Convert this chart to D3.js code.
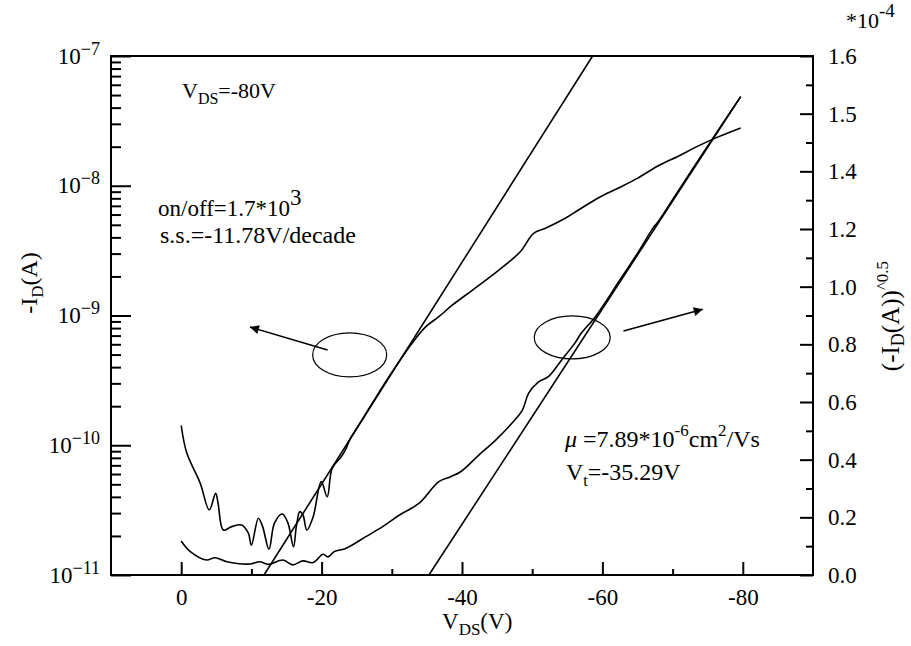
<!DOCTYPE html>
<html>
<head>
<meta charset="utf-8">
<script src="https://cdn.jsdelivr.net/npm/d3@7/dist/d3.min.js"></script>
<style>
  body { margin: 0; background: #fff; }
  svg { display: block; font-family: "Liberation Serif", "Times New Roman", serif; }
</style>
</head>
<body>
<div id="chart"></div>
<script>
// -I_D (A) on the log axis
const logV = [0, -0.8, -2.7, -4.0, -4.9, -5.25, -6.0, -7.2, -8.6, -9.55, -10.0, -11.0, -11.6, -12.5, -13.3, -14.4,
  -15.2, -16.0, -16.4, -16.9, -17.35, -17.9, -18.8, -19.95, -20.8, -21.5, -22.8, -23.5, -24.0, -25.4, -26.8, -28.2,
  -29.6, -32.7, -34.85, -36.7, -38.6, -41.5, -45.25, -48.3, -50.2, -51.9, -54.7, -56.6, -59.4, -62.3, -65.1, -67.9,
  -70.8, -73.6, -76.5, -79.7];
const logI = [1.42e-10, 8.7e-11, 5.12e-11, 3.17e-11, 4.26e-11, 3.59e-11, 2.22e-11, 2.36e-11, 2.43e-11, 2.11e-11,
  1.70e-11, 2.74e-11, 2.36e-11, 1.58e-11, 2.52e-11, 2.95e-11, 2.52e-11, 1.65e-11, 2.36e-11, 3.08e-11, 2.90e-11,
  2.22e-11, 2.81e-11, 5.24e-11, 4.01e-11, 6.64e-11, 8.16e-11, 9.47e-11, 1.10e-10, 1.46e-10, 1.94e-10, 2.57e-10,
  3.38e-10, 5.93e-10, 8.20e-10, 9.79e-10, 1.20e-9, 1.57e-9, 2.24e-9, 3.10e-9, 4.30e-9, 4.70e-9, 5.61e-9, 6.50e-9,
  8.05e-9, 9.61e-9, 1.15e-8, 1.42e-8, 1.69e-8, 2.02e-8, 2.38e-8, 2.79e-8];

// (-I_D)^0.5 on the right axis (position on that axis)
const sqrtV = [0, -1.3, -3.6, -4.8, -6.5, -9.8, -11.2, -12.4, -14.5, -15.9, -17.3, -18.8, -20.2, -20.9, -21.8, -23.5,
  -26.3, -28.7, -31.1, -33.9, -36.7, -38.4, -39.8, -42.4, -44.8, -47.1, -48.6, -49.5, -50.9, -52.3, -54.2, -56.1,
  -57.0, -59.0, -62.3, -65.1, -67.2, -67.9, -70.8, -73.6, -76.5, -79.7];
const sqrtI = [0.118, 0.081, 0.052, 0.060, 0.046, 0.038, 0.046, 0.037, 0.052, 0.035, 0.049, 0.043, 0.072, 0.063,
  0.081, 0.093, 0.133, 0.168, 0.208, 0.249, 0.324, 0.341, 0.358, 0.416, 0.468, 0.526, 0.572, 0.631, 0.670, 0.688,
  0.746, 0.805, 0.839, 0.896, 1.016, 1.120, 1.203, 1.224, 1.332, 1.436, 1.543, 1.659];

// fitted lines
const logFitV = [-11.8, -58.6];
const logFitI = [1e-11, 1e-7];
const sqrtFitV = [-35.29, -79.7];
const sqrtFitI = [0, 1.659];

// ticks
const xTicks = [0, -20, -40, -60, -80];
const xMinorTicks = [-10, -30, -50, -70];
const xTickLabels = ['0', '-20', '-40', '-60', '-80'];
const leftTicks = [1e-11, 1e-10, 1e-9, 1e-8, 1e-7];
const leftTickExp = ['\u221211', '\u221210', '\u22129', '\u22128', '\u22127'];
const rightTicks = [0, 0.2, 0.4, 0.6, 0.8, 1.0, 1.2, 1.4, 1.6, 1.8];
const rightTickLabels = ['0.0', '0.2', '0.4', '0.6', '0.8', '1.0', '1.2', '1.4', '1.5', '1.6'];

// ellipses and arrows, in data units
const ellipseLogV = -24.0, ellipseLogI = 4.97e-10;
const ellipseSqrtV = -55.7, ellipseSqrtI = 0.824;
const arrowLogV = [-20.85, -9.79];
const arrowLogI = [5.42e-10, 8.15e-10];
const arrowSqrtV = [-63.0, -74.3];
const arrowSqrtI = [0.846, 0.922];

const margin = { top: 56, right: 98, bottom: 71, left: 111 };
const width = 911 - margin.left - margin.right;
const height = 646 - margin.top - margin.bottom;

const svg = d3.select('#chart').append('svg')
  .attr('width', 911)
  .attr('height', 646);

const g = svg.append('g').attr('transform', `translate(${margin.left},${margin.top})`);

const x = d3.scaleLinear().domain([10, -90]).range([0, width]);
const yL = d3.scaleLog().domain([1e-11, 1e-7]).range([height, 0]);
const yR = d3.scaleLinear().domain([0, 1.8]).range([height, 0]);

svg.append('defs').append('clipPath').attr('id', 'clip')
  .append('rect').attr('width', width).attr('height', height);

const plot = g.append('g').attr('clip-path', 'url(#clip)');

const logData = logV.map((v, i) => ({ v, i: logI[i] }));
const sqrtData = sqrtV.map((v, i) => ({ v, i: sqrtI[i] }));

const lineL = d3.line().x(d => x(d.v)).y(d => yL(d.i)).curve(d3.curveCatmullRom.alpha(0.5));
const lineR = d3.line().x(d => x(d.v)).y(d => yR(d.i)).curve(d3.curveCatmullRom.alpha(0.5));

plot.append('path').datum(logData)
  .attr('fill', 'none').attr('stroke', '#000').attr('stroke-width', 1.6).attr('d', lineL);
plot.append('path').datum(sqrtData)
  .attr('fill', 'none').attr('stroke', '#000').attr('stroke-width', 1.6).attr('d', lineR);

// fit lines
plot.append('path').datum(logFitV.map((v, i) => ({ v, i: logFitI[i] })))
  .attr('fill', 'none').attr('stroke', '#000').attr('stroke-width', 1.6)
  .attr('d', d3.line().x(d => x(d.v)).y(d => yL(d.i)));
plot.append('path').datum(sqrtFitV.map((v, i) => ({ v, i: sqrtFitI[i] })))
  .attr('fill', 'none').attr('stroke', '#000').attr('stroke-width', 1.6)
  .attr('d', d3.line().x(d => x(d.v)).y(d => yR(d.i)));

// ellipses
g.append('ellipse').attr('cx', x(ellipseLogV)).attr('cy', yL(ellipseLogI))
  .attr('rx', 37).attr('ry', 22).attr('fill', 'none').attr('stroke', '#000').attr('stroke-width', 1.2);
g.append('ellipse').attr('cx', x(ellipseSqrtV)).attr('cy', yR(ellipseSqrtI))
  .attr('rx', 38).attr('ry', 21.5).attr('fill', 'none').attr('stroke', '#000').attr('stroke-width', 1.2);

// arrows
svg.select('defs').append('marker')
  .attr('id', 'head').attr('viewBox', '0 0 10 10').attr('refX', 10).attr('refY', 5)
  .attr('markerWidth', 18).attr('markerHeight', 9).attr('markerUnits', 'userSpaceOnUse')
  .attr('orient', 'auto')
  .append('path').attr('d', 'M0,0L10,5L0,10Z').attr('fill', '#000');

g.append('line')
  .attr('x1', x(arrowLogV[0])).attr('y1', yL(arrowLogI[0]))
  .attr('x2', x(arrowLogV[1])).attr('y2', yL(arrowLogI[1]))
  .attr('stroke', '#000').attr('stroke-width', 1.6).attr('marker-end', 'url(#head)');
g.append('line')
  .attr('x1', x(arrowSqrtV[0])).attr('y1', yR(arrowSqrtI[0]))
  .attr('x2', x(arrowSqrtV[1])).attr('y2', yR(arrowSqrtI[1]))
  .attr('stroke', '#000').attr('stroke-width', 1.6).attr('marker-end', 'url(#head)');

// axes
function styleAxis(sel) {
  sel.select('.domain').remove();
  sel.selectAll('.tick line').attr('stroke', '#000').attr('stroke-width', 2);
}

g.append('g').attr('transform', `translate(0,${height})`)
  .call(d3.axisBottom(x).tickValues(xTicks).tickSize(-13).tickSizeOuter(0)
    .tickFormat((d, i) => xTickLabels[i]).tickPadding(14))
  .call(styleAxis)
  .selectAll('text').attr('font-family', 'Liberation Serif').attr('font-size', 23).attr('fill', '#000');
g.append('g').attr('transform', `translate(0,${height})`)
  .call(d3.axisBottom(x).tickValues(xMinorTicks).tickSize(-6).tickSizeOuter(0).tickFormat(''))
  .call(styleAxis);

const minorLeft = [];
leftTicks.slice(0, -1).forEach(t => d3.range(2, 10).forEach(m => minorLeft.push(t * m)));

g.append('g')
  .call(d3.axisLeft(yL).tickValues(leftTicks).tickSize(-20).tickSizeOuter(0).tickFormat(''))
  .call(styleAxis);
g.append('g')
  .call(d3.axisLeft(yL).tickValues(minorLeft).tickSize(-10).tickSizeOuter(0).tickFormat(''))
  .call(styleAxis);

const leftLabels = g.append('g').attr('font-size', 23).attr('text-anchor', 'end');
leftTicks.forEach((t, i) => {
  const txt = leftLabels.append('text').attr('x', -11).attr('y', yL(t)).attr('dy', '0.33em');
  txt.append('tspan').text('10');
  txt.append('tspan').attr('font-size', 18).attr('dy', -9).text(leftTickExp[i]);
});

const minorRight = rightTicks.slice(0, -1).map(t => t + 0.1);
g.append('g').attr('transform', `translate(${width},0)`)
  .call(d3.axisRight(yR).tickValues(rightTicks).tickSize(-13).tickSizeOuter(0)
    .tickFormat((d, i) => rightTickLabels[i]).tickPadding(15))
  .call(styleAxis)
  .selectAll('text').attr('font-family', 'Liberation Serif').attr('font-size', 23).attr('fill', '#000');
g.append('g').attr('transform', `translate(${width},0)`)
  .call(d3.axisRight(yR).tickValues(minorRight).tickSize(-7).tickSizeOuter(0).tickFormat(''))
  .call(styleAxis);

// frame
g.append('rect').attr('width', width).attr('height', height)
  .attr('fill', 'none').attr('stroke', '#000').attr('stroke-width', 2);

// titles
const xt = svg.append('text').attr('x', 442).attr('y', 629).attr('font-size', 23);
xt.append('tspan').text('V');
xt.append('tspan').attr('font-size', 17).attr('dy', 6).text('DS');
xt.append('tspan').attr('dy', -6).text('(V)');

const yt = svg.append('text').attr('transform', 'translate(37,283) rotate(-90)')
  .attr('text-anchor', 'middle').attr('font-size', 24);
yt.append('tspan').text('-I');
yt.append('tspan').attr('font-size', 17).attr('dy', 6).text('D');
yt.append('tspan').attr('dy', -6).text('(A)');

const yr = svg.append('text').attr('transform', 'translate(899,316) rotate(-90)')
  .attr('text-anchor', 'middle').attr('font-size', 25);
yr.append('tspan').text('(-I');
yr.append('tspan').attr('font-size', 18).attr('dy', 5).text('D');
yr.append('tspan').attr('dy', -5).text('(A))');
yr.append('tspan').attr('font-size', 17).attr('dy', -11).text('^0.5');

const sc = svg.append('text').attr('x', 846).attr('y', 28).attr('font-size', 22);
sc.append('tspan').text('*10');
sc.append('tspan').attr('font-size', 19).attr('dy', -11).text('-4');

// annotations
const a1 = svg.append('text').attr('x', 182).attr('y', 98).attr('font-size', 22);
a1.append('tspan').text('V');
a1.append('tspan').attr('font-size', 16).attr('dy', 6).text('DS');
a1.append('tspan').attr('dy', -6).text('=-80V');

const a2 = svg.append('text').attr('x', 158).attr('y', 216).attr('font-size', 23);
a2.append('tspan').text('on/off=1.7*10');
a2.append('tspan').attr('dy', -11).text('3');
svg.append('text').attr('x', 160).attr('y', 243).attr('font-size', 24).text('s.s.=-11.78V/decade');

const a3 = svg.append('text').attr('x', 565).attr('y', 447).attr('font-size', 24);
a3.append('tspan').attr('font-style', 'italic').text('\u03bc');
a3.append('tspan').text(' =7.89*10');
a3.append('tspan').attr('font-size', 17).attr('dy', -11).text('-6');
a3.append('tspan').attr('dy', 11).text('cm');
a3.append('tspan').attr('font-size', 17).attr('dy', -11).text('2');
a3.append('tspan').attr('dy', 11).text('/Vs');

const a4 = svg.append('text').attr('x', 566).attr('y', 480).attr('font-size', 24);
a4.append('tspan').text('V');
a4.append('tspan').attr('font-size', 16).attr('dy', 6).text('t');
a4.append('tspan').attr('dy', -6).text('=-35.29V');
</script>
</body>
</html>
